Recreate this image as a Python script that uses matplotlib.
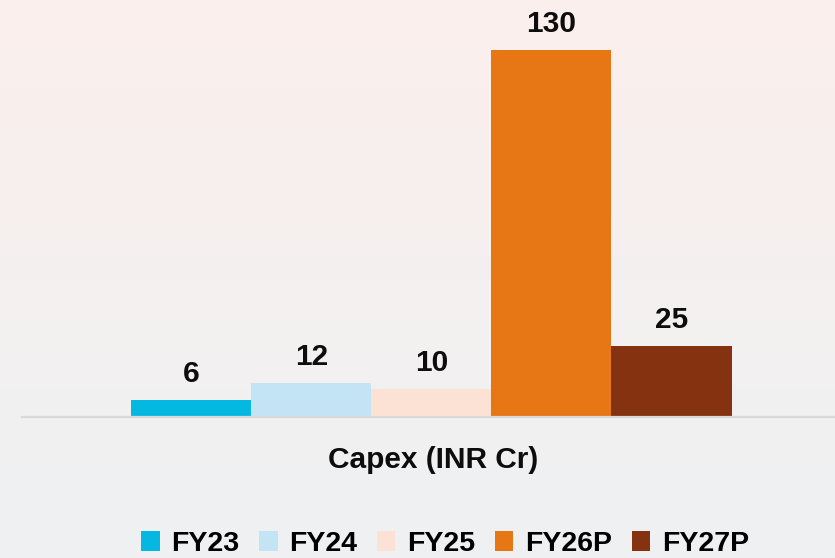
import matplotlib.pyplot as plt
import numpy as np
from matplotlib.patches import Patch
from matplotlib.colors import to_rgb

plt.rcParams['font.family'] = ['Liberation Sans', 'DejaVu Sans']

category = "Capex (INR Cr)"
years = ["FY23", "FY24", "FY25", "FY26P", "FY27P"]
capex = [6, 12, 10, 130, 25]
colors = ["#05b8e1", "#c2e4f5", "#fce2d5", "#e77614", "#843210"]

W, H = 835, 558
fig = plt.figure(figsize=(W / 100, H / 100), dpi=100)

# soft background gradient, pinkish at the top to grey-blue at the bottom
bg = fig.add_axes([0, 0, 1, 1], zorder=-1)
top = np.array(to_rgb("#fbefec"))
bot = np.array(to_rgb("#eef1f3"))
t = np.linspace(0, 1, 256)[:, None]
grad = (top * (1 - t) + bot * t)[:, None, :]
bg.imshow(grad, aspect='auto', extent=[0, 1, 0, 1])
bg.axis('off')

# main axes: x from px 22 to 842, baseline at px 417, 130 at px 50
ax = fig.add_axes([22 / W, 1 - 417 / H, 820 / W, 367 / H])
ax.patch.set_alpha(0)
pos = np.arange(len(years)) - 2
bars = ax.bar(pos, capex, width=1.0, color=colors, label=years)
ax.set_xlim(-3.41, 3.42)
ax.set_ylim(0, 130)
for x, v in zip(pos, capex):
    ax.annotate(str(v), (x, v), xytext=(0, 13), textcoords='offset points',
                ha='center', va='baseline', fontsize=21.5, fontweight='bold',
                color='#0d0d0d', annotation_clip=False)
for s in ax.spines.values():
    s.set_visible(False)
ax.axhline(0, color='#d9d9d9', lw=1.6, clip_on=False, zorder=3)
ax.set_xticks([])
ax.set_yticks([])

fig.text(433 / W, 1 - 468 / H, category, ha='center', va='baseline',
         fontsize=21.5, fontweight='bold', color='#0d0d0d')

handles = [Patch(facecolor=c, label=y) for c, y in zip(colors, years)]
fig.legend(handles=handles, loc='center', bbox_to_anchor=(445 / W, 1 - 544 / H),
           ncol=5, frameon=False, handlelength=0.65,
           handleheight=0.65, handletextpad=0.4, columnspacing=0.7,
           prop={'weight': 'bold', 'size': 20.5})

fig.savefig("out.png", dpi=100)
